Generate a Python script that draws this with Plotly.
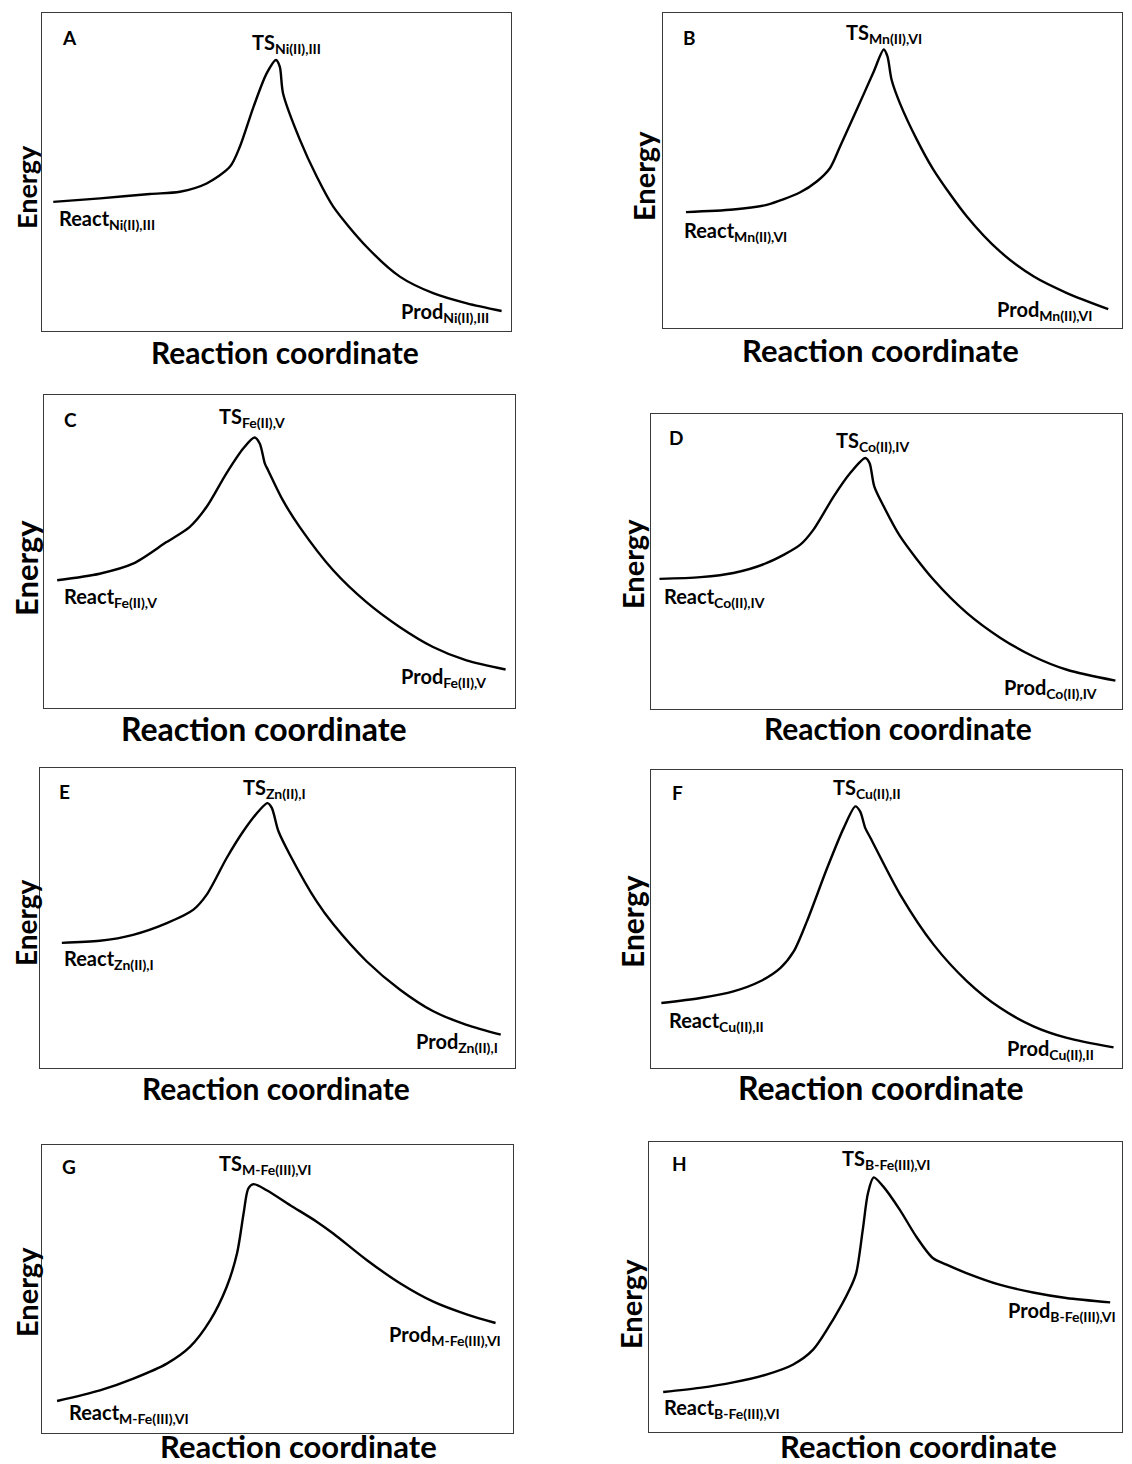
import plotly.graph_objects as go

W, H = 1132, 1464
FONT = "Lato"
PAGE_MARGIN = 8  # default body margin of the html page

# ---------------- data (reaction coordinate 0-100, energy 0-100 in each panel) ----------------
panel_letters = ["A", "B", "C", "D", "E", "F", "G", "H"]
species = ["Ni(II),III", "Mn(II),VI", "Fe(II),V", "Co(II),IV",
           "Zn(II),I", "Cu(II),II", "M-Fe(III),VI", "B-Fe(III),VI"]
x_title = "Reaction coordinate"
y_title = "Energy"

x_A = [2.4, 12.4, 23.0, 29.4, 35.1, 40.1, 42.2, 45.1, 47.9, 49.9, 50.7, 51.4, 55.0, 58.6, 62.1, 69.2, 76.3, 83.4, 90.6, 98.0]
y_A = [40.6, 41.7, 43.1, 43.8, 46.4, 51.7, 58.0, 70.5, 81.0, 85.2, 83.1, 74.7, 60.1, 48.5, 39.1, 26.5, 17.1, 11.9, 8.7, 6.3]

x_B = [5.0, 15.3, 22.6, 29.8, 33.5, 36.4, 38.6, 42.2, 45.8, 48.1, 48.9, 49.8, 51.6, 55.3, 58.9, 66.2, 73.4, 80.7, 88.0, 97.0]
y_B = [36.8, 37.6, 39.1, 43.0, 46.5, 50.8, 57.7, 69.3, 81.0, 88.4, 86.2, 78.8, 71.4, 59.8, 50.3, 35.4, 24.3, 16.4, 11.1, 6.0]

x_C = [2.8, 11.8, 18.9, 26.0, 30.9, 34.5, 38.7, 42.3, 44.7, 45.8, 46.9, 47.6, 50.7, 54.3, 61.4, 68.4, 75.5, 82.6, 89.7, 98.0]
y_C = [40.8, 42.9, 46.1, 53.0, 57.8, 64.2, 74.9, 82.9, 86.4, 84.5, 78.1, 75.9, 66.4, 57.8, 44.0, 33.9, 25.9, 19.5, 15.2, 12.3]

x_D = [1.8, 10.5, 17.5, 24.6, 31.7, 34.5, 38.8, 42.3, 45.5, 46.4, 47.4, 49.4, 52.9, 60.0, 67.1, 74.2, 81.2, 88.3, 98.6]
y_D = [44.1, 44.7, 46.1, 49.5, 55.7, 60.8, 72.1, 80.0, 85.1, 83.4, 75.5, 68.7, 58.5, 43.8, 32.5, 24.1, 17.8, 13.3, 9.6]

x_E = [4.6, 12.6, 19.6, 26.7, 32.3, 35.1, 39.3, 42.8, 46.3, 47.9, 48.8, 50.2, 52.6, 58.2, 61.8, 68.8, 75.8, 82.8, 89.8, 97.0]
y_E = [41.7, 42.4, 44.4, 48.3, 52.8, 57.8, 70.0, 78.9, 86.1, 88.3, 86.7, 78.9, 71.1, 55.6, 47.8, 35.5, 26.1, 18.9, 14.4, 11.1]

x_F = [2.2, 10.5, 17.5, 23.2, 27.5, 30.3, 33.1, 37.4, 40.9, 43.4, 44.4, 45.5, 46.6, 52.9, 60.0, 67.1, 74.2, 81.2, 88.3, 98.2]
y_F = [21.8, 23.5, 25.7, 29.1, 33.6, 39.1, 49.2, 67.1, 80.5, 87.8, 86.1, 80.5, 77.2, 58.2, 41.4, 29.1, 20.1, 14.0, 10.1, 6.9]

x_G = [3.2, 12.3, 19.4, 26.5, 31.4, 35.7, 39.2, 41.4, 42.8, 43.8, 44.9, 47.7, 52.7, 58.4, 61.9, 69.0, 76.1, 83.2, 90.3, 96.3]
y_G = [11.1, 14.8, 18.9, 24.1, 29.9, 39.1, 50.7, 62.3, 76.2, 84.9, 86.4, 84.3, 79.1, 73.3, 69.2, 60.0, 51.9, 45.5, 41.1, 38.2]

x_H = [3.0, 10.7, 17.8, 24.8, 30.4, 34.7, 38.9, 42.4, 43.8, 45.2, 46.3, 47.5, 49.5, 53.0, 56.5, 60.0, 62.9, 67.1, 74.1, 81.2, 88.2, 97.5]
y_H = [13.8, 15.2, 17.1, 19.8, 23.2, 28.4, 38.7, 49.1, 54.8, 69.8, 82.4, 87.8, 84.7, 76.7, 67.4, 60.0, 57.7, 54.8, 50.8, 48.1, 46.2, 44.7]

curves_x = [x_A, x_B, x_C, x_D, x_E, x_F, x_G, x_H]
curves_y = [y_A, y_B, y_C, y_D, y_E, y_F, y_G, y_H]

# ---------------- layout (pixel geometry of each panel on the page) ----------------
# plot box: left, top, right, bottom
boxes = [(42, 13, 511, 331), (663, 13, 1122, 328),
         (44, 395, 515, 708), (651, 414, 1122, 709),
         (40, 768, 515, 1068), (651, 770, 1122, 1068),
         (42, 1145, 513, 1433), (649, 1142, 1122, 1432)]
# label anchors (left x, centre y)
pos_letter = [(61, 38), (682, 37), (63, 420), (668, 437), (58, 791), (671, 793), (61, 1166), (671, 1163)]
pos_ts = [(251, 42), (845, 32), (218, 416), (835, 440), (242, 787), (832, 788), (218, 1163), (841, 1158)]
pos_react = [(58, 218), (683, 231), (63, 596), (663, 597), (63, 959), (668, 1020), (68, 1412), (663, 1407)]
pos_prod = [(400, 311), (996, 310), (400, 676), (1003, 687), (415, 1041), (1006, 1048), (388, 1334), (1007, 1310)]
pos_energy = [(26, 187), (643, 176), (26, 568), (632, 564), (26, 923), (632, 922), (26, 1292), (630, 1304)]
pos_rc = [(285, 352), (880, 350), (264, 728), (898, 728), (276, 1088), (881, 1087), (298, 1446), (919, 1446)]
rc_width = [267, 273, 289, 270, 266, 281, 272, 275]
en_len = [87, 92, 100, 92, 90, 97, 93, 92]


def px(x):
    return (x - PAGE_MARGIN) / W


def py(y):
    return 1 - (y - PAGE_MARGIN) / H


fig = go.Figure()
annotations = []
LBL = 20
SHIFT = 1  # compensate subscript making the text box taller

for i in range(8):
    n = i + 1
    xa = "x" if n == 1 else f"x{n}"
    ya = "y" if n == 1 else f"y{n}"
    fig.add_trace(go.Scatter(x=curves_x[i], y=curves_y[i], mode="lines",
                             line=dict(color="black", width=2.4, shape="spline", smoothing=0.8),
                             xaxis=xa, yaxis=ya, showlegend=False, hoverinfo="skip"))
    l, t, r, b = boxes[i]
    axis_common = dict(showgrid=False, zeroline=False, showticklabels=False, ticks="",
                       showline=True, mirror=True, linecolor="#3a3a3a", linewidth=1.3,
                       fixedrange=True)
    fig.layout[f"xaxis{'' if n == 1 else n}"] = dict(domain=[px(l), px(r)], range=[0, 100],
                                                     anchor=ya, **axis_common)
    fig.layout[f"yaxis{'' if n == 1 else n}"] = dict(domain=[py(b), py(t)], range=[0, 100],
                                                     anchor=xa, **axis_common)

    def add(text, pos, size, xanchor="left", textangle=0, shift=0):
        annotations.append(dict(text=text, x=px(pos[0]), y=py(pos[1] + shift), xref="paper", yref="paper",
                                xanchor=xanchor, yanchor="middle", showarrow=False, textangle=textangle,
                                borderpad=0,
                                font=dict(family=FONT, size=size, color="black", weight="bold")))

    add(panel_letters[i], pos_letter[i], 19)
    add(f"TS<sub>{species[i]}</sub>", pos_ts[i], LBL, shift=SHIFT)
    add(f"React<sub>{species[i]}</sub>", pos_react[i], LBL, shift=SHIFT)
    add(f"Prod<sub>{species[i]}</sub>", pos_prod[i], LBL, shift=SHIFT)
    add(y_title, pos_energy[i], round(en_len[i] / 3.2), xanchor="center", textangle=-90)
    add(x_title, pos_rc[i], round(rc_width[i] / 8.9), xanchor="center")

fig.update_layout(width=W, height=H, margin=dict(l=0, r=0, t=0, b=0),
                  paper_bgcolor="white", plot_bgcolor="white",
                  annotations=annotations, font=dict(family=FONT))

fig.write_html("out.html")
